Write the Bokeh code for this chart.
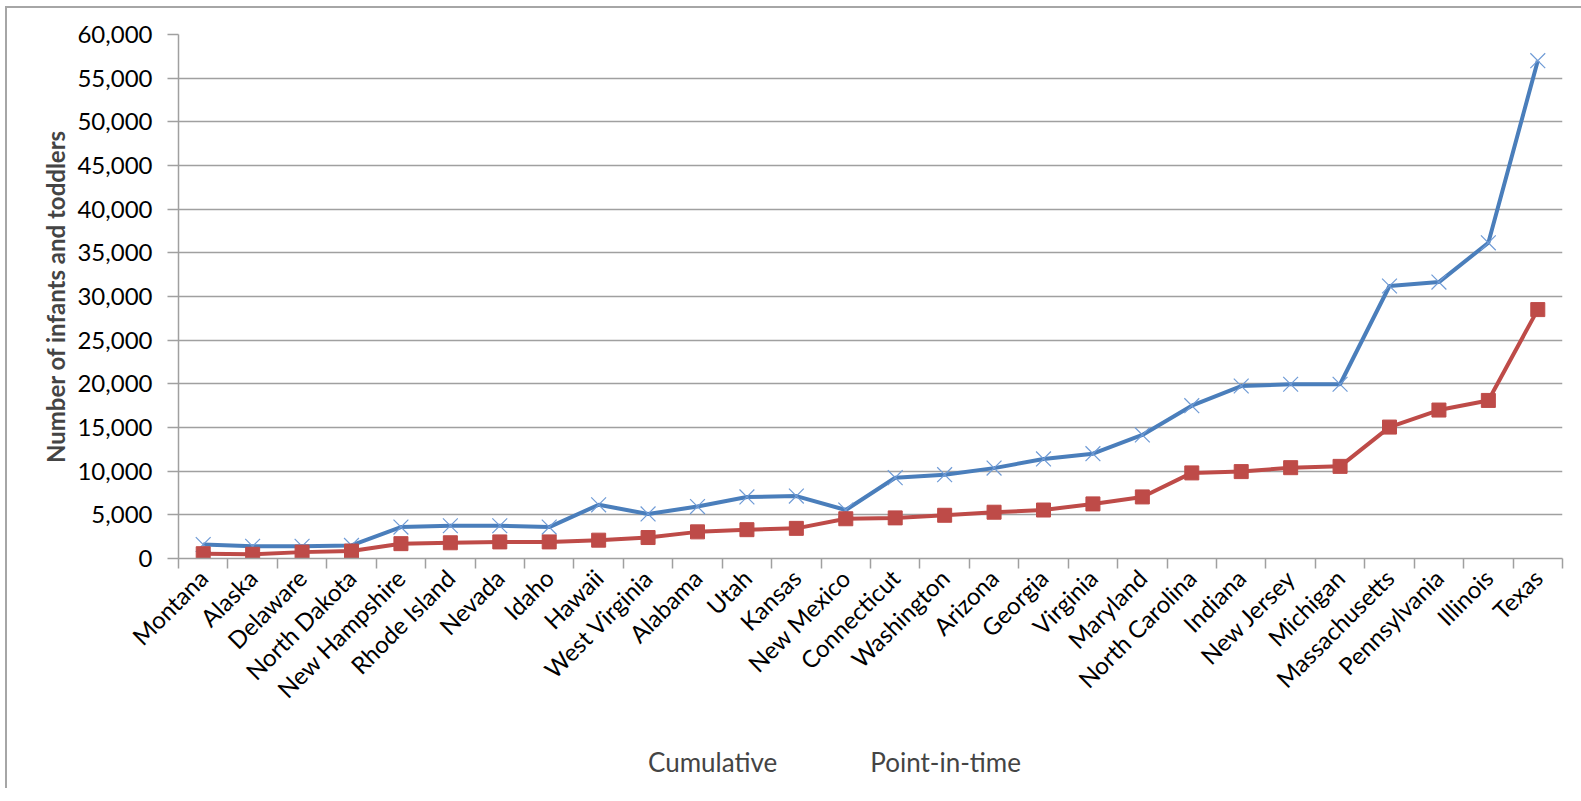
from math import pi

from bokeh.embed import file_html
from bokeh.layouts import column
from bokeh.models import (ColumnDataSource, FixedTicker, Legend, LegendItem,
                          LinearAxis, NumeralTickFormatter, Range1d)
from bokeh.plotting import figure
from bokeh.resources import INLINE

# States ordered by point-in-time count
states = ["Montana", "Alaska", "Delaware", "North Dakota", "New Hampshire",
          "Rhode Island", "Nevada", "Idaho", "Hawaii", "West Virginia",
          "Alabama", "Utah", "Kansas", "New Mexico", "Connecticut",
          "Washington", "Arizona", "Georgia", "Virginia", "Maryland",
          "North Carolina", "Indiana", "New Jersey", "Michigan",
          "Massachusetts", "Pennsylvania", "Illinois", "Texas"]

cumulative = [1600, 1400, 1400, 1500, 3600, 3750, 3750, 3600, 6150, 5100,
              5950, 7050, 7150, 5550, 9250, 9600, 10350, 11400, 12000, 14150,
              17500, 19750, 19950, 19950, 31200, 31650, 36150, 57000]

point_in_time = [550, 480, 730, 850, 1700, 1800, 1900, 1900, 2100, 2400,
                 3050, 3300, 3450, 4550, 4650, 4950, 5300, 5550, 6250, 7050,
                 9800, 9950, 10400, 10550, 15050, 17000, 18100, 28500]

y_ticks = list(range(0, 60001, 5000))

FONT = "Lato"
BLUE = "#4A7EBB"
MARKER_BLUE = "#6f9bd6"
RED = "#BE4B48"
GRID = "#a0a0a0"

# Each state sits in the middle of its own slot
slot_centers = [i + 0.5 for i in range(len(states))]
slot_edges = list(range(len(states) + 1))
source = ColumnDataSource(dict(x=slot_centers, state=states,
                               cumulative=cumulative, pit=point_in_time))

p = figure(
    x_range=Range1d(0, len(states)),
    y_range=Range1d(0, 60000),
    x_axis_location=None,
    y_axis_location=None,
    frame_width=1384,
    frame_height=524,
    min_border_left=171,
    min_border_top=26,
    min_border_right=20,
    min_border_bottom=180,
    output_backend="svg",
    toolbar_location=None,
    background_fill_color="white",
    border_fill_color="white",
)
p.outline_line_color = None
p.xgrid.grid_line_color = None

yaxis = LinearAxis(
    ticker=FixedTicker(ticks=y_ticks),
    formatter=NumeralTickFormatter(format="0,0"),
    axis_label="Number of infants and toddlers",
    axis_label_text_font=FONT,
    axis_label_text_font_style="bold",
    axis_label_text_font_size="24px",
    axis_label_standoff=4,
    major_label_text_font=FONT,
    major_label_text_font_size="24px",
    major_label_text_color="black",
    major_label_standoff=15,
    axis_line_color=GRID,
    axis_line_width=1.5,
    major_tick_line_color=GRID,
    major_tick_line_width=1.5,
    major_tick_out=11,
    major_tick_in=0,
    minor_tick_line_color=None,
)
p.add_layout(yaxis, "left")

# Tick marks on the slot boundaries, no labels
slot_axis = LinearAxis(
    ticker=FixedTicker(ticks=slot_edges),
    major_label_overrides={e: "" for e in slot_edges},
    major_label_text_font_size="1px",
    major_label_standoff=0,
    axis_line_color=GRID,
    axis_line_width=1.5,
    major_tick_line_color=GRID,
    major_tick_line_width=1.5,
    major_tick_out=10,
    major_tick_in=0,
    minor_tick_line_color=None,
)
p.add_layout(slot_axis, "below")

# State names under the slot centres
name_axis = LinearAxis(
    ticker=FixedTicker(ticks=slot_centers),
    major_label_overrides={x: s for x, s in zip(slot_centers, states)},
    axis_line_color=None,
    major_tick_line_color=None,
    major_tick_out=0,
    major_tick_in=0,
    minor_tick_line_color=None,
    major_label_orientation=pi / 4,
    major_label_text_font=FONT,
    major_label_text_font_size="24px",
    major_label_text_color="black",
    major_label_standoff=5,
)
p.add_layout(name_axis, "below")

p.ygrid.ticker = FixedTicker(ticks=y_ticks)
p.ygrid.grid_line_color = GRID
p.ygrid.grid_line_width = 1.5

p.line("x", "cumulative", source=source, line_color=BLUE, line_width=4)
p.scatter("x", "cumulative", source=source, marker="x", size=21,
          line_color=MARKER_BLUE, line_width=1.2)
p.line("x", "pit", source=source, line_color=RED, line_width=4)
p.scatter("x", "pit", source=source, marker="square", size=14,
          fill_color=RED, line_color=RED)

# Legend strip under the chart: its glyph renderers carry no data and only
# supply the key samples.
key = figure(
    x_range=Range1d(0, 1),
    y_range=Range1d(0, 1),
    x_axis_location=None,
    y_axis_location=None,
    frame_width=1575,
    frame_height=50,
    min_border=0,
    output_backend="svg",
    toolbar_location=None,
    background_fill_color="white",
    border_fill_color="white",
)
key.outline_line_color = None
key.grid.grid_line_color = None

empty = ColumnDataSource(dict(x=[], y=[]))
k_cum_line = key.line("x", "y", source=empty, line_color=BLUE, line_width=4)
k_cum_pts = key.scatter("x", "y", source=empty, marker="x", size=21,
                        line_color=MARKER_BLUE, line_width=1.2)
k_pit_line = key.line("x", "y", source=empty, line_color=RED, line_width=4)
k_pit_pts = key.scatter("x", "y", source=empty, marker="square", size=14,
                        fill_color=RED, line_color=RED)

legend = Legend(
    items=[LegendItem(label="Cumulative", renderers=[k_cum_line, k_cum_pts]),
           LegendItem(label="Point-in-time", renderers=[k_pit_line, k_pit_pts])],
    orientation="horizontal",
    location=(583, 10),
    label_text_font=FONT,
    label_text_font_size="26px",
    label_standoff=5,
    glyph_width=53,
    glyph_height=22,
    spacing=35,
    padding=0,
    margin=0,
    border_line_color=None,
    background_fill_alpha=0,
)
key.add_layout(legend, "center")

page = column(p, key, spacing=0, margin=(6, 0, 0, 5))
page.styles = {"border-left": "2px solid #a6a6a6", "border-top": "2px solid #a6a6a6"}

open("out.html", "w").write(file_html(page, INLINE))
